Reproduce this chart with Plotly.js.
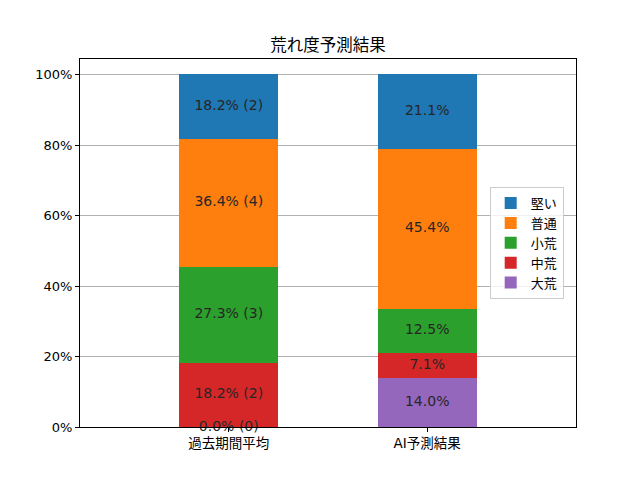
<!DOCTYPE html>
<html>
<head>
<meta charset="utf-8">
<script src="https://cdn.plot.ly/plotly-3.0.1.min.js"></script>
<style>
  body { margin: 0; }
  #chart { width: 640px; height: 480px; }
</style>
</head>
<body>
<div id="chart"></div>
<script>
// categories and series (stack order: bottom to top)
var categories = ['過去期間平均', 'AI予測結果'];
var seriesNames = ['大荒', '中荒', '小荒', '普通', '堅い'];
var seriesColors = ['#9467bd', '#d62728', '#2ca02c', '#ff7f0e', '#1f77b4'];
var pctPast = [0.0, 18.2, 27.3, 36.4, 18.2];
var countPast = [0, 2, 3, 4, 2];
var pctAI = [14.0, 7.1, 12.5, 45.4, 21.1];
var yTicks = [0, 20, 40, 60, 80, 100];

var font = '"DejaVu Sans", "Noto Sans CJK JP", sans-serif';

var traces = [];
for (var i = 0; i < seriesNames.length; i++) {
  traces.push({
    type: 'bar',
    name: seriesNames[i],
    x: [0, 1],
    y: [pctPast[i], pctAI[i]],
    width: 0.5,
    marker: { color: seriesColors[i], line: { width: 0 } },
    hoverinfo: 'none'
  });
}

// segment labels, placed at the middle of each stacked segment
var lx = [], ly = [], lt = [];
var basePast = 0, baseAI = 0;
for (var j = 0; j < seriesNames.length; j++) {
  lx.push(0); ly.push(basePast + pctPast[j] / 2);
  lt.push(pctPast[j].toFixed(1) + '% (' + countPast[j] + ')');
  basePast += pctPast[j];
  lx.push(1); ly.push(baseAI + pctAI[j] / 2);
  lt.push(pctAI[j].toFixed(1) + '%');
  baseAI += pctAI[j];
}
traces.push({
  type: 'scatter',
  mode: 'text',
  x: lx, y: ly, text: lt,
  textposition: 'middle center',
  textfont: { family: font, size: 14, color: '#262626' },
  cliponaxis: false,
  showlegend: false,
  hoverinfo: 'none'
});

var layout = {
  width: 640, height: 480,
  margin: { l: 80, r: 64, t: 59, b: 53 },
  paper_bgcolor: '#fff', plot_bgcolor: '#fff',
  barmode: 'stack',
  font: { family: font, size: 13, color: '#000' },
  title: { text: '荒れ度予測結果', font: { family: font, size: 16.5 }, x: 0.5, xref: 'paper', y: 0.906, yanchor: 'middle' },
  xaxis: {
    range: [-0.75, 1.75],
    tickvals: [0, 1], ticktext: categories,
    ticks: 'outside', ticklen: 4, tickcolor: '#000',
    showline: true, linecolor: '#000', linewidth: 1, mirror: true,
    showgrid: false, zeroline: false,
    tickfont: { family: font, size: 13.5 }
  },
  yaxis: {
    range: [0, 104.5],
    tickvals: yTicks, ticktext: yTicks.map(function (v) { return v + '%'; }),
    ticks: 'outside', ticklen: 4, tickcolor: '#000',
    showline: true, linecolor: '#000', linewidth: 1, mirror: true,
    showgrid: true, gridcolor: '#b0b0b0', gridwidth: 1, zeroline: false,
    tickfont: { family: font, size: 13 }
  },
  legend: {
    x: 0.826, y: 0.652, xanchor: 'left', yanchor: 'top',
    traceorder: 'reversed',
    bgcolor: 'rgba(255,255,255,0.8)', bordercolor: '#ccc', borderwidth: 1,
    font: { family: font, size: 13 },
    tracegroupgap: 0, itemwidth: 30
  },
  showlegend: true
};

Plotly.newPlot('chart', traces, layout, { staticPlot: true });
</script>
</body>
</html>
